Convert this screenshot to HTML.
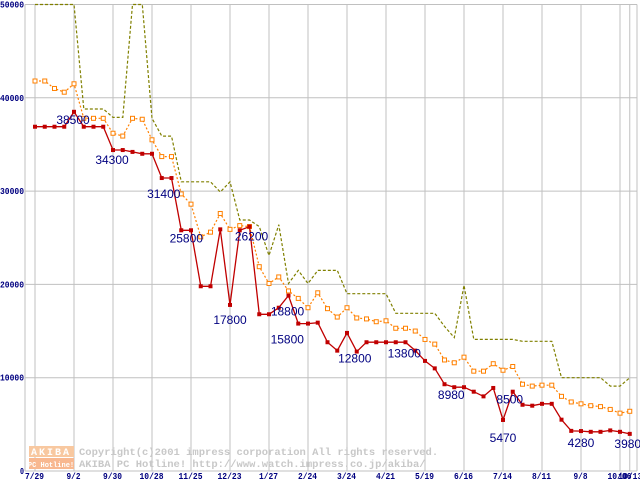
<!DOCTYPE html>
<html><head><meta charset="utf-8"><style>
html,body{margin:0;padding:0;background:#fff;}
svg{display:block;font-family:"Liberation Mono","DejaVu Sans Mono",monospace;}
</style></head><body>
<svg id="chart" width="640" height="480" viewBox="0 0 640 480" xmlns="http://www.w3.org/2000/svg">
<g id="grid"></g>
<g id="wm">
<rect x="29" y="446" width="45" height="11" fill="#f8c8a0"/>
<rect x="29" y="458" width="45" height="11" fill="#f8b890"/>
<text x="51" y="455" font-size="10" font-weight="bold" fill="#fff" text-anchor="middle" letter-spacing="2">AKIBA</text>
<text x="51" y="467" font-size="7" font-weight="bold" fill="#fff" text-anchor="middle">PC Hotline!</text>
<text x="79" y="455" font-size="10.5" fill="#c8c8c8" font-weight="bold">Copyright(c)2001 impress corporation All rights reserved.</text>
<text x="79" y="467" font-size="10.5" fill="#c8c8c8" font-weight="bold">AKIBA PC Hotline!  http://www.watch.impress.co.jp/akiba/</text>
</g>
<g id="series"></g>
<g id="labels"></g>
</svg>
<script>
const xTickLabels=["7/29","9/2","9/30","10/28","11/25","12/23","1/27","2/24","3/24","4/21","5/19","6/16","7/14","8/11","9/8","10/06"];
const yTicks=[0,10000,20000,30000,40000,50000];
const minPrice=[36900,36900,36900,36900,38500,36900,36900,36900,34400,34400,34200,34000,34000,31400,31400,25800,25800,19800,19800,25900,17800,25800,26200,16800,16800,17500,18800,15800,15800,15900,13800,12900,14800,12800,13800,13800,13800,13800,13800,12900,11800,11000,9300,8980,8980,8500,8000,8900,5470,8500,7100,7000,7200,7200,5500,4300,4280,4200,4200,4350,4200,3980];
const avgPrice=[41800,41800,41000,40600,41500,37800,37800,37800,36200,35900,37800,37700,35500,33700,33700,29700,28600,25100,25600,27600,25900,26300,26200,21900,20100,20800,19300,18500,17500,19100,17400,16500,17500,16400,16300,16000,16100,15300,15300,15000,14100,13600,11900,11600,12200,10700,10700,11500,10800,11200,9300,9100,9200,9200,8000,7400,7200,7000,6900,6600,6200,6400];
const maxPrice=[50000,50000,50000,50000,50000,38800,38800,38800,37900,37900,50000,50000,37800,35900,35900,31000,31000,31000,31000,29900,31000,26900,26900,26200,23100,26400,20100,21500,20100,21500,21500,21500,19000,19000,19000,19000,19000,16900,16900,16900,16900,16900,15500,14300,19900,14100,14100,14100,14100,14100,13900,13900,13900,13900,10000,10000,10000,10000,10000,9100,9100,10000];
const labelIdx=[4,8,13,15,20,22,26,27,33,39,43,48,49,56,61];
const labelText=["38500","34300","31400","25800","17800","26200","18800","15800","12800","13800","8980","5470","8500","4280","3980"];
const labelOff=[[-1,12],[-1,14],[2,20],[5,12],[0,19],[2,14],[-1,20],[-11,20],[-2,11],[-11,7],[-3,12],[0,22],[-3,12],[0,16],[-2,14]];

const NS="http://www.w3.org/2000/svg";
const X0=25,X1=637,Y0=471,Y1=4.5,PX0=35,STEP=9.75;
const xs=i=>PX0+STEP*i;
const ys=v=>Y0-(v/50000)*(Y0-Y1);
function mk(tag,attrs,parent){const e=document.createElementNS(NS,tag);for(const k in attrs)e.setAttribute(k,attrs[k]);parent.appendChild(e);return e;}
const grid=document.getElementById('grid'),ser=document.getElementById('series'),lab=document.getElementById('labels');
yTicks.forEach(v=>{
  const l=mk('line',{x1:X0,x2:X1,y1:ys(v),y2:ys(v),stroke:'#c0c0c0','stroke-width':1},grid);
  
  
  const s=String(v);
  const w=s.length*5;
  const t=mk('text',{x:25-w,y:ys(v)+3,'font-size':9,'font-weight':'bold',fill:'#000080',textLength:w-1,lengthAdjust:'spacingAndGlyphs'},grid);
  t.textContent=s;
  
  
});
const vlines=xTickLabels.map((s,k)=>xs(k*4));
vlines.push(xs(61));
vlines.forEach(x=>{
  const l=mk('line',{x1:x,x2:x,y1:Y1,y2:Y0,stroke:'#c0c0c0','stroke-width':1},grid);
  
  
});
[X0,X1].forEach(x=>{const l=mk('line',{x1:x,x2:x,y1:Y1,y2:Y0,stroke:'#c0c0c0','stroke-width':1},grid);
  
  });
function xl(s,x){
  const w=s.length*5;
  const t=mk('text',{x:x-w/2,y:479,'font-size':9,'font-weight':'bold',fill:'#000080',textLength:w-1,lengthAdjust:'spacingAndGlyphs'},grid);
  t.textContent=s;
  
  
}
xTickLabels.forEach((s,k)=>xl(s,xs(k*4)));
xl("10/13",xs(61)+1);
function pts(a){return a.map((v,i)=>xs(i).toFixed(1)+','+ys(v).toFixed(1)).join(' ');}
const pm=mk('polyline',{points:pts(maxPrice),fill:'none',stroke:'#808000','stroke-width':1.2,'stroke-dasharray':'3,2'},ser);


const pa=mk('polyline',{points:pts(avgPrice),fill:'none',stroke:'#ff8000','stroke-width':1.2,'stroke-dasharray':'2,2'},ser);


avgPrice.forEach((v,i)=>{
  const r=mk('rect',{x:xs(i)-2,y:ys(v)-2,width:4,height:4,fill:'#fff',stroke:'#ff8000','stroke-width':1},ser);
  
  
});
const pn=mk('polyline',{points:pts(minPrice),fill:'none',stroke:'#c00000','stroke-width':1.3},ser);


minPrice.forEach((v,i)=>{
  const r=mk('rect',{x:xs(i)-2,y:ys(v)-2,width:4,height:4,fill:'#c00000'},ser);
  
  
});
labelIdx.forEach((idx,k)=>{
  const t=mk('text',{x:xs(idx)+labelOff[k][0],y:ys(minPrice[idx])+labelOff[k][1],'font-size':12,fill:'#000080','text-anchor':'middle','font-family':'"Liberation Sans",sans-serif'},lab);
  t.textContent=labelText[k];
  
  
});
</script>
</body></html>
